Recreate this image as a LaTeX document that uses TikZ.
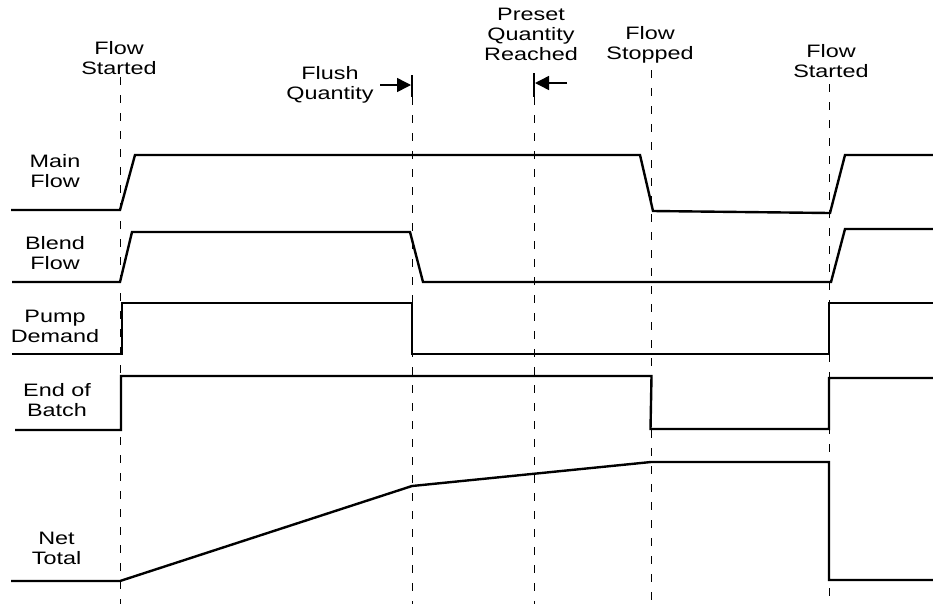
\documentclass[tikz,border=0pt]{standalone}
\usepackage{fontspec}
\setmainfont[FakeStretch=1.3]{Liberation Sans}
\usetikzlibrary{arrows.meta}
\begin{document}
\begin{tikzpicture}[x=1pt,y=-1pt,
  lbl/.style={font=\fontsize{18}{20}\selectfont, align=center, inner sep=0pt},
  sig/.style={line width=2.4pt, line join=miter},
  guide/.style={line width=1pt, dash pattern=on 8pt off 10pt},
  barline/.style={line width=1.4pt},
  pointer/.style={line width=1.5pt, -{Triangle[length=14pt,width=14pt]}}]
\useasboundingbox (0,0) rectangle (933,606);

% labels
\node[lbl] (fs1) at (119,58) {Flow\\Started};
\node[lbl] (fq) at (330,85) {Flush\\Quantity};
\node[lbl] (pq) at (531,34) {Preset\\Quantity\\Reached};
\node[lbl] (fst) at (650,45) {Flow\\Stopped};
\node[lbl] (fs2) at (831,61.5) {Flow\\Started};
\node[lbl] (mf) at (55,171.5) {Main\\Flow};
\node[lbl] (bf) at (55,253) {Blend\\Flow};
\node[lbl] (pd) at (55,326.5) {Pump\\Demand};
\node[lbl] (eb) at (57,400) {End of\\Batch};
\node[lbl] (nt) at (56.5,548) {Net\\Total};

% guide coordinates
\coordinate (g1t) at (120,77);  \coordinate (g1b) at (120,604);
\coordinate (g2a) at (412,75);  \coordinate (g2t) at (412,97);  \coordinate (g2b) at (412,604);
\coordinate (g3a) at (534,73);  \coordinate (g3t) at (534,97);  \coordinate (g3b) at (534,604);
\coordinate (g4t) at (651,70);  \coordinate (g4b) at (651,604);
\coordinate (g5t) at (829,84);  \coordinate (g5b) at (829,604);

\draw[guide] (g1t) -- (g1b);
\draw[guide] (g2t) -- (g2b);
\draw[guide] (g3t) -- (g3b);
\draw[guide] (g4t) -- (g4b);
\draw[guide] (g5t) -- (g5b);

\draw[barline] (g2a) -- (g2t);
\draw[barline] (g3a) -- (g3t);

\coordinate (fqs) at (380,85);  \coordinate (fqe) at (411,85);
\coordinate (pqs) at (567,83);  \coordinate (pqe) at (535,83);
\draw[pointer] (fqs) -- (fqe);
\draw[pointer] (pqs) -- (pqe);

% signals
\draw[sig] (11,210) -- (120,210) -- (135,155) -- (640,155) -- (653,211) -- (830,213) -- (845,155) -- (933,155);
\draw[sig] (12,282) -- (120,282) -- (132,232) -- (410,232) -- (423,282) -- (831,282) -- (845,229) -- (933,229);
\draw[sig] (12,354) -- (122,354) -- (122,303) -- (412,303) -- (412,354) -- (829,354) -- (829,303) -- (933,303);
\draw[sig] (15,430) -- (121,430) -- (121,376) -- (651.5,376) -- (650.5,429) -- (829,429) -- (829,378) -- (933,378);
\draw[sig] (11,581) -- (120,581) -- (412,486) -- (651,462) -- (829,462) -- (829,580) -- (933,580);
\end{tikzpicture}
\end{document}
